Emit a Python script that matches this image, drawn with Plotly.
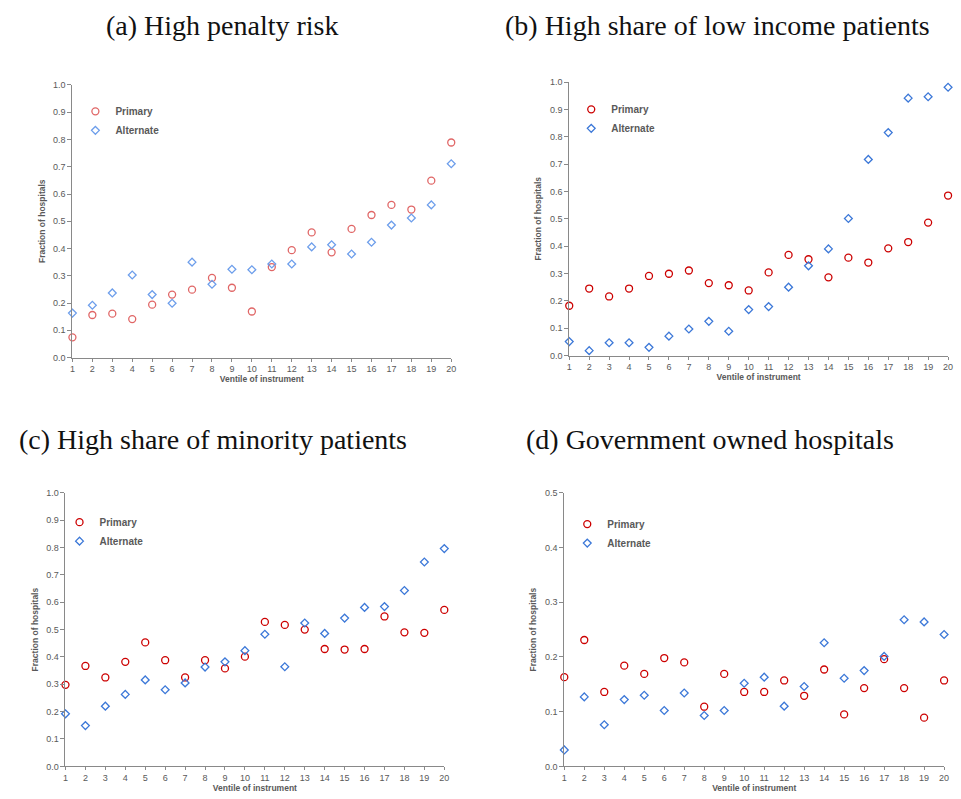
import plotly.graph_objects as go

ventiles = list(range(1, 21))

titles = ["(a) High penalty risk",
          "(b) High share of low income patients",
          "(c) High share of minority patients",
          "(d) Government owned hospitals"]

a_primary = [0.074, 0.156, 0.161, 0.141, 0.194, 0.231, 0.249, 0.292, 0.256, 0.169,
             0.332, 0.394, 0.459, 0.386, 0.472, 0.523, 0.560, 0.543, 0.649, 0.789]
a_alternate = [0.163, 0.192, 0.237, 0.303, 0.231, 0.199, 0.350, 0.269, 0.324, 0.322,
               0.343, 0.343, 0.406, 0.414, 0.380, 0.423, 0.486, 0.512, 0.560, 0.711]

b_primary = [0.182, 0.245, 0.216, 0.245, 0.291, 0.299, 0.311, 0.265, 0.257, 0.238,
             0.304, 0.368, 0.352, 0.286, 0.358, 0.340, 0.392, 0.415, 0.486, 0.585]
b_alternate = [0.051, 0.018, 0.047, 0.047, 0.030, 0.071, 0.097, 0.125, 0.089, 0.168,
               0.179, 0.250, 0.328, 0.390, 0.501, 0.717, 0.815, 0.941, 0.946, 0.981]

c_primary = [0.298, 0.367, 0.325, 0.382, 0.453, 0.388, 0.325, 0.388, 0.358, 0.401,
             0.528, 0.517, 0.500, 0.429, 0.427, 0.429, 0.548, 0.490, 0.488, 0.572]
c_alternate = [0.192, 0.149, 0.220, 0.263, 0.316, 0.280, 0.305, 0.363, 0.382, 0.423,
               0.483, 0.364, 0.524, 0.486, 0.542, 0.581, 0.584, 0.643, 0.747, 0.796]

d_primary = [0.163, 0.231, 0.136, 0.184, 0.169, 0.198, 0.190, 0.109, 0.169, 0.136,
             0.136, 0.157, 0.129, 0.177, 0.095, 0.143, 0.196, 0.143, 0.089, 0.157]
d_alternate = [0.030, 0.127, 0.076, 0.122, 0.130, 0.102, 0.134, 0.093, 0.102, 0.152,
               0.163, 0.110, 0.146, 0.226, 0.161, 0.175, 0.201, 0.268, 0.264, 0.241]

W, H = 961, 799

# panel geometry in pixels: (left, right, top, bottom)
panels = [(70, 452, 81, 357), (571, 953, 78, 355), (63, 445, 494, 771), (566, 949, 494, 771)]
yranges = [1.0, 1.0, 1.0, 0.5]
colors = [("#e06666", "#6d9eeb"), ("#cc0000", "#3c78d8"),
          ("#cc0000", "#3c78d8"), ("#cc0000", "#3c78d8")]
data = [(a_primary, a_alternate), (b_primary, b_alternate),
        (c_primary, c_alternate), (d_primary, d_alternate)]
title_pos = [(221, 21), (720, 21), (212, 440), (713, 440)]
legend_pos = [(73, 93), (573, 91), (57, 509), (569, 511)]

fig = go.Figure()
layout = dict(width=W, height=H, margin=dict(l=0, r=0, t=0, b=0),
              paper_bgcolor="white", plot_bgcolor="white", annotations=[])

axis_color = "#898989"
tick_font = dict(family="Arial, Liberation Sans, sans-serif", size=9, color="#595959")
lab_font = dict(family="Arial, Liberation Sans, sans-serif", size=8.5, color="#595959")

for i in range(4):
    l, r, t, b = panels[i]
    sfx = "" if i == 0 else str(i + 1)
    xa, ya = "x" + sfx, "y" + sfx
    lg = "legend" + sfx
    prim, alt = data[i]
    cp, ca = colors[i]
    fig.add_trace(go.Scatter(x=ventiles, y=prim, mode="markers", name="Primary",
                             xaxis=xa, yaxis=ya, legend=lg, cliponaxis=False,
                             marker=dict(symbol="circle-open", size=7, color=cp,
                                         line=dict(width=1.3, color=cp))))
    fig.add_trace(go.Scatter(x=ventiles, y=alt, mode="markers", name="Alternate",
                             xaxis=xa, yaxis=ya, legend=lg, cliponaxis=False,
                             marker=dict(symbol="diamond-open", size=6, color=ca,
                                         line=dict(width=1.3, color=ca))))
    layout["xaxis" + sfx] = dict(
        domain=[l / W, r / W], anchor=ya, range=[1, 20], tickmode="array",
        tickvals=ventiles, ticktext=[str(v) for v in ventiles],
        showline=True, linecolor=axis_color, linewidth=1, ticks="outside",
        ticklen=3, tickcolor=axis_color, showgrid=False, zeroline=False,
        tickfont=tick_font,
        title=dict(text="<b>Ventile of instrument</b>", font=lab_font, standoff=2))
    layout["yaxis" + sfx] = dict(
        domain=[1 - b / H, 1 - t / H], anchor=xa, range=[0, yranges[i]],
        dtick=0.1, tickformat=".1f", showline=True, linecolor=axis_color,
        linewidth=1, ticks="outside", ticklen=4, tickcolor=axis_color,
        showgrid=False, zeroline=False, tickfont=tick_font,
        title=dict(text="<b>Fraction of hospitals</b>", font=lab_font, standoff=6))
    lx, ly = legend_pos[i]
    layout[lg] = dict(x=lx / W, y=1 - ly / H, xanchor="left", yanchor="top",
                      bgcolor="rgba(0,0,0,0)",
                      font=dict(family="Arial, Liberation Sans, sans-serif",
                                size=10, color="#595959", weight="bold"))
    tx, ty = title_pos[i]
    layout["annotations"].append(dict(
        text=titles[i], x=tx / W, y=1 - ty / H, xref="paper", yref="paper",
        xanchor="center", yanchor="middle", showarrow=False,
        font=dict(family="Liberation Serif, Times New Roman, serif", size=28,
                  color="#111111")))

fig.update_layout(**layout)
fig.write_html("out.html")
